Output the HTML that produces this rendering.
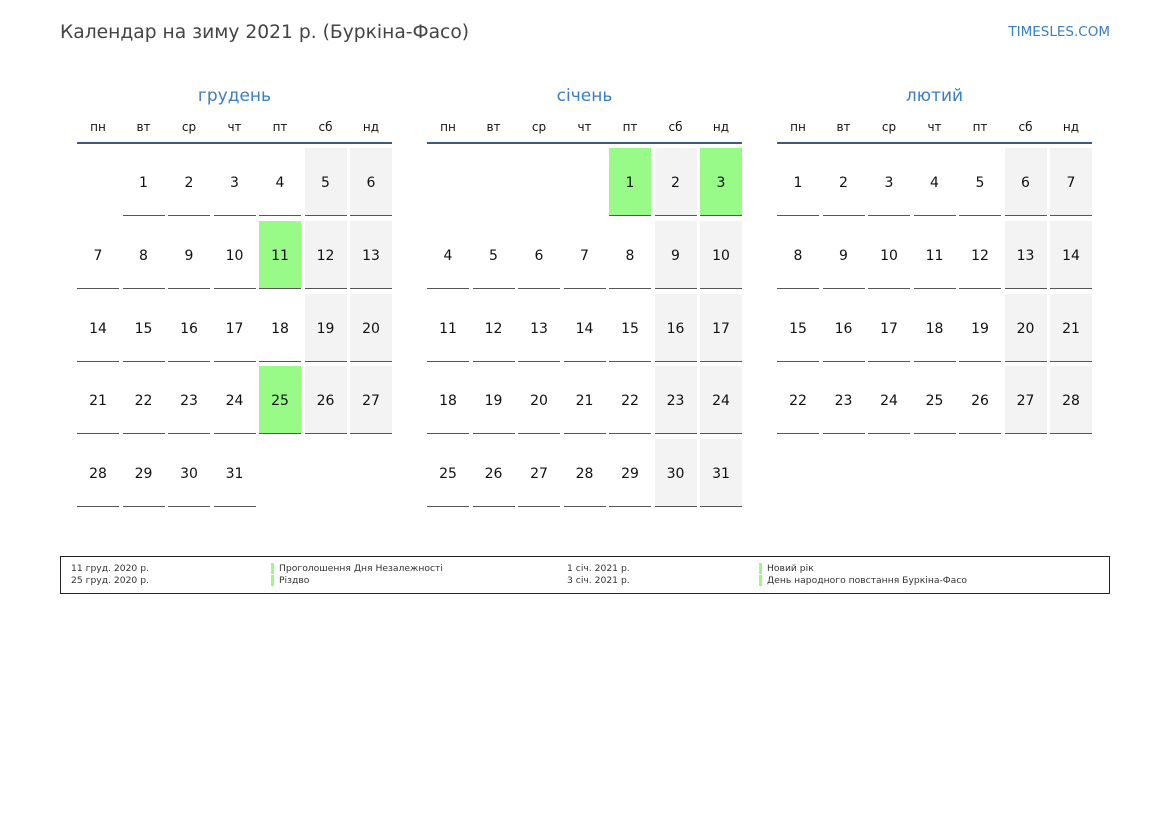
<!DOCTYPE html>
<html><head><meta charset="utf-8"><style>
*{margin:0;padding:0;box-sizing:border-box}
body{width:1169px;height:827px;background:#fff;font-family:"DejaVu Sans","Liberation Sans",sans-serif;position:relative;overflow:hidden;color:#111}
.t{position:absolute;left:60px;top:22px;font-size:18.7px;color:#444}
.s{position:absolute;right:59px;top:24px;font-size:13.5px;color:#3a7ebf}
.m{position:absolute;top:84px;width:315px}
.mt{text-align:center;font-size:17px;color:#3a7ebf;height:24px;line-height:24px}
.wd{display:grid;grid-template-columns:repeat(7,42px);column-gap:3.5px;margin-top:11px;height:25px;border-bottom:2px solid #3c5a80;font-size:12px;text-align:center;line-height:16px}
.g{display:grid;grid-template-columns:repeat(7,42px);column-gap:3.5px;row-gap:4.75px;grid-auto-rows:68px;margin-top:4px}
.g div{font-size:14px;text-align:center;line-height:70px}
.g .d{border-bottom:1.5px solid #555}
.g .w{background:#f3f3f3}
.g .h{background:#98fb88}
.lg{position:absolute;left:60px;top:556px;width:1050px;height:38px;border:1px solid #222;font-size:9.2px;color:#333}
.lg span{position:absolute;white-space:nowrap}
.b{border-left:3px solid #98fb88;padding-left:5px}
</style></head><body>
<div class="t">Календар на зиму 2021 р. (Буркіна-Фасо)</div>
<div class="s">TIMESLES.COM</div>

<div class="m" style="left:77px">
<div class="mt">грудень</div>
<div class="wd"><div>пн</div><div>вт</div><div>ср</div><div>чт</div><div>пт</div><div>сб</div><div>нд</div></div>
<div class="g">
<div></div><div class="d">1</div><div class="d">2</div><div class="d">3</div><div class="d">4</div><div class="d w">5</div><div class="d w">6</div>
<div class="d">7</div><div class="d">8</div><div class="d">9</div><div class="d">10</div><div class="d h">11</div><div class="d w">12</div><div class="d w">13</div>
<div class="d">14</div><div class="d">15</div><div class="d">16</div><div class="d">17</div><div class="d">18</div><div class="d w">19</div><div class="d w">20</div>
<div class="d">21</div><div class="d">22</div><div class="d">23</div><div class="d">24</div><div class="d h">25</div><div class="d w">26</div><div class="d w">27</div>
<div class="d">28</div><div class="d">29</div><div class="d">30</div><div class="d">31</div>
</div></div>

<div class="m" style="left:427px">
<div class="mt">січень</div>
<div class="wd"><div>пн</div><div>вт</div><div>ср</div><div>чт</div><div>пт</div><div>сб</div><div>нд</div></div>
<div class="g">
<div></div><div></div><div></div><div></div><div class="d h">1</div><div class="d w">2</div><div class="d h">3</div>
<div class="d">4</div><div class="d">5</div><div class="d">6</div><div class="d">7</div><div class="d">8</div><div class="d w">9</div><div class="d w">10</div>
<div class="d">11</div><div class="d">12</div><div class="d">13</div><div class="d">14</div><div class="d">15</div><div class="d w">16</div><div class="d w">17</div>
<div class="d">18</div><div class="d">19</div><div class="d">20</div><div class="d">21</div><div class="d">22</div><div class="d w">23</div><div class="d w">24</div>
<div class="d">25</div><div class="d">26</div><div class="d">27</div><div class="d">28</div><div class="d">29</div><div class="d w">30</div><div class="d w">31</div>
</div></div>

<div class="m" style="left:777px">
<div class="mt">лютий</div>
<div class="wd"><div>пн</div><div>вт</div><div>ср</div><div>чт</div><div>пт</div><div>сб</div><div>нд</div></div>
<div class="g">
<div class="d">1</div><div class="d">2</div><div class="d">3</div><div class="d">4</div><div class="d">5</div><div class="d w">6</div><div class="d w">7</div>
<div class="d">8</div><div class="d">9</div><div class="d">10</div><div class="d">11</div><div class="d">12</div><div class="d w">13</div><div class="d w">14</div>
<div class="d">15</div><div class="d">16</div><div class="d">17</div><div class="d">18</div><div class="d">19</div><div class="d w">20</div><div class="d w">21</div>
<div class="d">22</div><div class="d">23</div><div class="d">24</div><div class="d">25</div><div class="d">26</div><div class="d w">27</div><div class="d w">28</div>
</div></div>

<div class="lg">
<span style="left:10px;top:6px">11 груд. 2020 р.</span>
<span style="left:10px;top:18px">25 груд. 2020 р.</span>
<span class="b" style="left:210px;top:6px">Проголошення Дня Незалежності</span>
<span class="b" style="left:210px;top:18px">Різдво</span>
<span style="left:506px;top:6px">1 січ. 2021 р.</span>
<span style="left:506px;top:18px">3 січ. 2021 р.</span>
<span class="b" style="left:698px;top:6px">Новий рік</span>
<span class="b" style="left:698px;top:18px">День народного повстання Буркіна-Фасо</span>
</div>
</body></html>
